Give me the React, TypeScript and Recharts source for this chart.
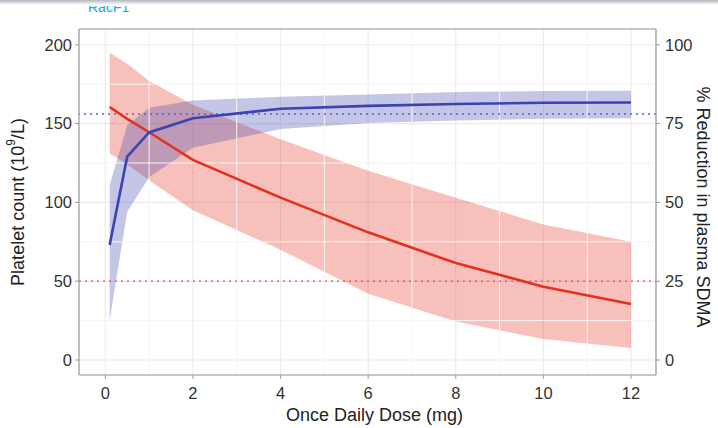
import React from 'react';
import {
  ComposedChart, Line, Area, XAxis, YAxis, CartesianGrid, ReferenceLine, Label,
} from 'recharts';

// dose levels (mg)
const doses = [0.1, 0.5, 1, 2, 4, 6, 8, 10, 12];

// platelet count (left axis)
const plateletMedian = [160.5, 153, 144.5, 127, 103, 81, 61.5, 46.5, 35.5];
const plateletUpper = [195, 188, 177, 162, 140, 120, 103, 86, 75];
const plateletLower = [131, 124, 114, 95, 70, 42, 24.5, 13.3, 7.6];

// % reduction in plasma SDMA (right axis)
const sdmaMedian = [36.5, 64.5, 72.2, 76.7, 79.7, 80.6, 81.2, 81.6, 81.7];
const sdmaUpper = [55.5, 74.5, 80, 82.3, 83.5, 84.2, 85, 85.3, 85.4];
const sdmaLower = [12.7, 47, 58, 67.3, 73.3, 75.2, 76, 76.5, 76.7];

const xTicks = [0, 2, 4, 6, 8, 10, 12];
const xMinor = [1, 3, 5, 7, 9, 11];
const leftTicks = [0, 50, 100, 150, 200];
const leftMinor = [25, 75, 125, 175];
const rightTicks = [0, 25, 50, 75, 100];

const plateletThreshold = 50;
const sdmaTarget = 78;

const data = doses.map((d, i) => ({
  dose: d,
  platelet: plateletMedian[i],
  plateletBand: [plateletLower[i], plateletUpper[i]],
  sdma: sdmaMedian[i],
  sdmaBand: [sdmaLower[i], sdmaUpper[i]],
}));

const RED = '#e4301f';
const BLUE = '#3b43ae';
const BORDER = '#9a9a9a';
const tickStyle = { fill: '#333', fontSize: 16.5 };

function LeftTitle(props: any) {
  const vb = props.viewBox || { x: 0, y: 29, width: 79, height: 346 };
  const x = vb.x + 18;
  const y = vb.y + vb.height / 2;
  return (
    <text x={x} y={y} transform={`rotate(-90, ${x}, ${y})`} textAnchor="middle"
      dominantBaseline="central" fontSize={18} fill="#222">
      Platelet count (10<tspan baselineShift="super" fontSize={12}>9</tspan>/L)
    </text>
  );
}

function RightTitle(props: any) {
  const vb = props.viewBox || { x: 656, y: 29, width: 62, height: 346 };
  const x = vb.x + 47;
  const y = vb.y + vb.height / 2 + 5;
  return (
    <text x={x} y={y} transform={`rotate(90, ${x}, ${y})`} textAnchor="middle"
      dominantBaseline="central" fontSize={18} fill="#222">
      % Reduction in plasma SDMA
    </text>
  );
}

export default function App() {
  return (
    <div style={{ position: 'absolute', left: 0, top: 0, width: 718, height: 428, background: '#fff',
      fontFamily: '"Liberation Sans", Arial, sans-serif', overflow: 'hidden' }}>
      <div style={{ position: 'absolute', left: 0, top: 0, width: 718, height: 5,
        background: 'linear-gradient(#b4bac1, #ffffff)' }} />
      <div style={{ position: 'absolute', left: 88, top: 6, height: 9, overflow: 'hidden' }}>
        <div style={{ marginTop: -6, fontSize: 14, color: '#2aa6cc', lineHeight: '15px' }}>RacF1</div>
      </div>
      <ComposedChart width={718} height={428} data={data}
        margin={{ top: 29, right: 0, bottom: 0, left: 0 }}>
        <CartesianGrid yAxisId="left" stroke="#ebebeb" strokeWidth={1.1} />
        {xMinor.map((v) => (
          <ReferenceLine key={'xm' + v} yAxisId="left" x={v} stroke="#f4f4f4" strokeWidth={1} />
        ))}
        {leftMinor.map((v) => (
          <ReferenceLine key={'ym' + v} yAxisId="left" y={v} stroke="#f4f4f4" strokeWidth={1} />
        ))}
        <XAxis dataKey="dose" type="number" domain={[-0.6, 12.57]} allowDataOverflow ticks={xTicks}
          height={53} tick={tickStyle} tickSize={4} tickMargin={8}
          axisLine={{ stroke: BORDER, strokeWidth: 1.2 }} tickLine={{ stroke: BORDER }}>
          <Label value="Once Daily Dose (mg)" position="insideBottom" offset={7} dx={7}
            style={{ fontSize: 18, fill: '#222' }} />
        </XAxis>
        <YAxis yAxisId="left" type="number" domain={[-9.5, 210]} allowDataOverflow ticks={leftTicks}
          width={79} tick={tickStyle} tickSize={4} tickMargin={3}
          axisLine={{ stroke: BORDER, strokeWidth: 1.2 }} tickLine={{ stroke: BORDER }}
          label={{ content: (p: any) => <LeftTitle {...p} /> }} />
        <YAxis yAxisId="right" orientation="right" type="number" domain={[-4.75, 105]} allowDataOverflow
          ticks={rightTicks} width={62} tick={tickStyle} tickSize={4} tickMargin={5}
          axisLine={{ stroke: BORDER, strokeWidth: 1.2 }} tickLine={{ stroke: BORDER }}
          label={{ content: (p: any) => <RightTitle {...p} /> }} />
        <ReferenceLine yAxisId="left" y={210} stroke={BORDER} strokeWidth={1.2} />

        <Area yAxisId="left" dataKey="plateletBand" type="linear" fill={RED} fillOpacity={0.3}
          stroke="none" isAnimationActive={false} />
        <Area yAxisId="right" dataKey="sdmaBand" type="linear" fill={BLUE} fillOpacity={0.3}
          stroke="none" isAnimationActive={false} />

        <ReferenceLine yAxisId="left" y={plateletThreshold} stroke="#e5484d" strokeWidth={1.3}
          strokeDasharray="2 4" />
        <ReferenceLine yAxisId="right" y={sdmaTarget} stroke="#5b60c2" strokeWidth={1.5}
          strokeDasharray="2 4" />

        <Line yAxisId="left" dataKey="platelet" type="linear" stroke={RED} strokeWidth={2.6}
          dot={false} isAnimationActive={false} />
        <Line yAxisId="right" dataKey="sdma" type="linear" stroke={BLUE} strokeWidth={2.6}
          dot={false} isAnimationActive={false} />
      </ComposedChart>
    </div>
  );
}
